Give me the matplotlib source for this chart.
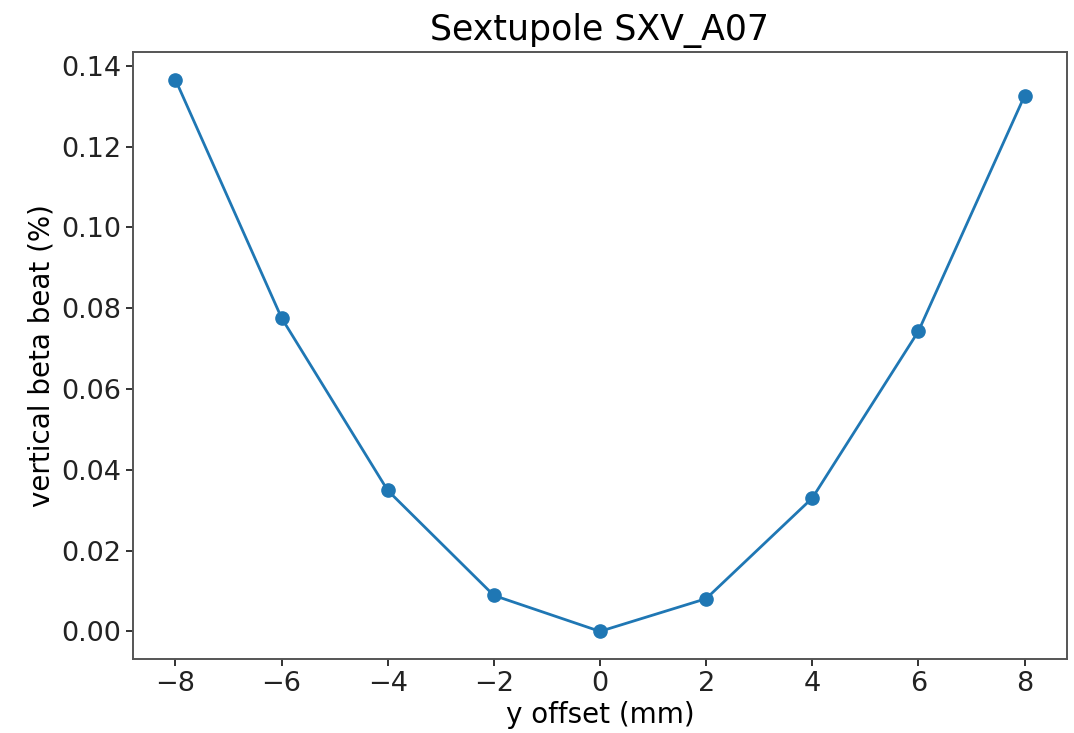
import matplotlib
matplotlib.use('Agg')
import matplotlib.pyplot as plt

# y offset (mm) and resulting vertical beta beat (%)
offsets = [-8, -6, -4, -2, 0, 2, 4, 6, 8]
beta_beat = [0.1366, 0.0776, 0.0349, 0.0089, 0.0, 0.0081, 0.0330, 0.0743, 0.1326]

fig = plt.figure(figsize=(10.74, 7.33), dpi=100)
ax = fig.add_axes([0.1238, 0.101, 0.8697, 0.828])

ax.plot(offsets, beta_beat, '-o', color='#1f77b4', lw=2.0, markersize=9.5)

ax.set_title('Sextupole SXV_A07', fontsize=25, pad=9)
ax.set_xlabel('y offset (mm)', fontsize=20, labelpad=3)
ax.set_ylabel('vertical beta beat (%)', fontsize=20)
ax.set_xticks(range(-8, 9, 2))
ax.tick_params(labelsize=19.5, length=5, width=1.3, colors='#222222')
for s in ax.spines.values():
    s.set_linewidth(1.4)
    s.set_color('#555555')

fig.savefig('out.png', dpi=100)
